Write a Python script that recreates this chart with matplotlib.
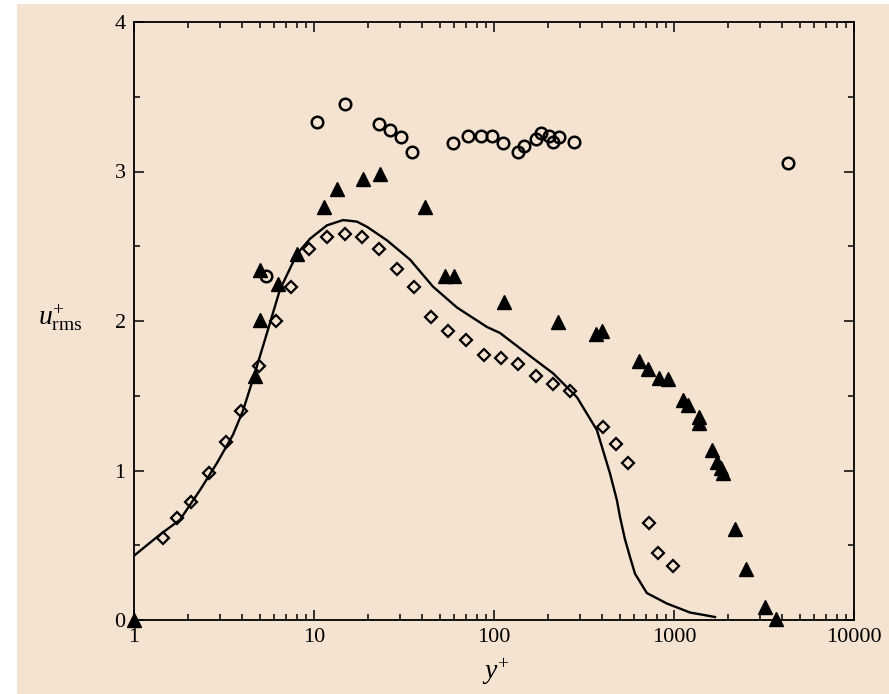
import matplotlib
matplotlib.use('Agg')
import matplotlib.pyplot as plt
from matplotlib.patches import Rectangle
from matplotlib.ticker import LogLocator, MultipleLocator, NullFormatter

plt.rcParams['font.family'] = 'Liberation Serif'
plt.rcParams['mathtext.fontset'] = 'custom'
plt.rcParams['mathtext.rm'] = 'Liberation Serif'
plt.rcParams['mathtext.it'] = 'Liberation Serif:italic'

# open diamonds
dia_x = [1.45, 1.73, 2.07, 2.61, 3.24, 3.93, 4.95, 6.15, 7.45, 9.4, 11.8, 14.9,
         18.5, 23, 28.9, 36, 44.7, 55.5, 69.9, 88, 109, 136, 171, 213, 264,
         403, 476, 555, 726, 815, 986]
dia_y = [0.55, 0.68, 0.79, 0.98, 1.19, 1.40, 1.70, 2.00, 2.23, 2.48, 2.56, 2.58,
         2.56, 2.48, 2.35, 2.23, 2.03, 1.93, 1.87, 1.77, 1.75, 1.71, 1.63, 1.58, 1.53,
         1.29, 1.18, 1.05, 0.65, 0.45, 0.36]

# filled triangles
tri_x = [1.0, 4.7, 5.0, 5.0, 6.3, 8.05, 11.4, 13.4, 18.7, 23.3, 41.4, 53.5, 60,
         113.6, 227, 369, 398, 639, 717, 826, 926, 1122, 1197, 1377, 1377,
         1625, 1734, 1824, 1871, 2183, 2512, 3206, 3688]
tri_y = [0.0, 1.63, 2.01, 2.34, 2.25, 2.45, 2.76, 2.88, 2.95, 2.98, 2.76, 2.30, 2.30,
         2.13, 1.99, 1.91, 1.93, 1.73, 1.68, 1.62, 1.61, 1.47, 1.44, 1.36, 1.32,
         1.14, 1.06, 1.02, 0.98, 0.61, 0.34, 0.09, 0.01]

# open circles
circ_x = [5.41, 10.4, 14.9, 23, 26.4, 30.4, 35, 59.2, 71.7, 84.7, 97.5, 112, 136,
          147, 171, 182, 202, 213, 230, 278, 4300]
circ_y = [2.30, 3.33, 3.45, 3.32, 3.28, 3.23, 3.13, 3.19, 3.24, 3.24, 3.24, 3.19, 3.13,
          3.17, 3.22, 3.26, 3.24, 3.20, 3.23, 3.20, 3.06]

# solid line
line_x = [1.0, 1.39, 1.80, 2.33, 2.89, 3.55, 4.03, 4.58, 5.48, 6.47, 8.05, 9.5, 11.8,
          14.5, 17.3, 19.7, 25.4, 34.2, 45.8, 62.3, 91.4, 108, 165, 213, 289, 373,
          441, 482, 501, 534, 570, 607, 707, 914, 1228, 1690]
line_y = [0.43, 0.57, 0.67, 0.87, 1.05, 1.24, 1.40, 1.61, 1.92, 2.21, 2.45, 2.55, 2.64,
          2.675, 2.665, 2.63, 2.54, 2.41, 2.23, 2.09, 1.96, 1.92, 1.75, 1.65, 1.49, 1.27,
          0.98, 0.80, 0.69, 0.54, 0.42, 0.31, 0.18, 0.11, 0.05, 0.02]

bg = '#f4e3d1'
fig = plt.figure(figsize=(8.89, 6.94), dpi=100)
fig.patch.set_facecolor('white')
fig.patches.append(Rectangle((17 / 889, 0), 1, 1 - 4 / 694, transform=fig.transFigure,
                             facecolor=bg, edgecolor='none', zorder=-10))

ax = fig.add_axes([134 / 889, 1 - 620 / 694, 720 / 889, 598 / 694])
ax.set_facecolor(bg)

ax.plot(line_x, line_y, color='black', lw=1.7, zorder=2)
ax.plot(dia_x, dia_y, 'D', ms=6.3, mfc='none', mec='black', mew=1.6, zorder=3)
ax.plot(circ_x, circ_y, 'o', ms=8.3, mfc='none', mec='black', mew=1.8, zorder=3)
ax.plot(tri_x, tri_y, '^', ms=10, mfc='black', mec='black', zorder=4, clip_on=False)

ax.set_xscale('log')
ax.set_xlim(1, 10000)
ax.set_ylim(0, 4)
ax.set_xticks([1, 10, 100, 1000, 10000])
ax.set_xticklabels(['1', '10', '100', '1000', '10000'])
ax.xaxis.set_minor_locator(LogLocator(base=10, subs=range(2, 10)))
ax.xaxis.set_minor_formatter(NullFormatter())
ax.set_yticks([0, 1, 2, 3, 4])
ax.yaxis.set_minor_locator(MultipleLocator(0.5))

ax.tick_params(which='both', direction='in', top=True, right=True, labelsize=16,
               width=1.1, colors='black')
ax.tick_params(which='major', length=7, pad=6)
ax.tick_params(which='minor', length=4)
for s in ax.spines.values():
    s.set_linewidth(1.3)

fig.text(60 / 889, 1 - 318 / 694, r'$u^{+}_{\mathrm{rms}}$', fontsize=20,
         ha='center', va='center')
fig.text(496 / 889, 1 - 672 / 694, r'$y^{+}$', fontsize=20, ha='center', va='center')

fig.savefig('out.png', dpi=100)
